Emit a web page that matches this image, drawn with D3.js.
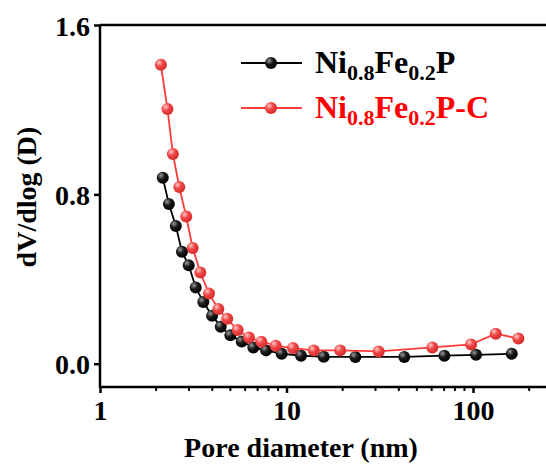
<!DOCTYPE html>
<html>
<head>
<meta charset="utf-8">
<script src="https://cdn.jsdelivr.net/npm/d3@7/dist/d3.min.js"></script>
<style>
  html, body { margin: 0; padding: 0; background: #fff; }
  svg { display: block; }
  text { font-family: "Liberation Serif", "Times New Roman", serif; font-weight: bold; }
</style>
</head>
<body>
<svg id="chart" width="546" height="465"></svg>
<script>
// Pore size distribution (BJH) for the two phosphide samples
const poreNiFeP = [2.17, 2.34, 2.55, 2.75, 2.99, 3.26, 3.58, 3.99, 4.44, 5.00, 5.75, 6.64, 7.77, 9.42, 11.96, 15.83, 23.4, 42.8, 70.2, 103.8, 161.3];
const dvNiFeP   = [0.879, 0.755, 0.651, 0.529, 0.465, 0.360, 0.291, 0.227, 0.175, 0.134, 0.105, 0.077, 0.063, 0.047, 0.038, 0.033, 0.032, 0.032, 0.038, 0.042, 0.047];

const poreNiFePC = [2.12, 2.30, 2.46, 2.66, 2.90, 3.14, 3.45, 3.84, 4.31, 4.81, 5.47, 6.29, 7.33, 8.75, 10.83, 14.0, 19.4, 31.2, 60.5, 97.6, 132.4, 175];
const dvNiFePC   = [1.412, 1.203, 0.991, 0.835, 0.695, 0.547, 0.431, 0.332, 0.258, 0.212, 0.159, 0.124, 0.104, 0.085, 0.074, 0.063, 0.063, 0.058, 0.077, 0.091, 0.142, 0.119];

const xTicks = [1, 10, 100];
const yTicks = [0.0, 0.8, 1.6];
const xTitle = "Pore diameter (nm)";
const yTitle = "dV/dlog (D)";

const series = [
  { name: ["Ni", "0.8", "Fe", "0.2", "P"], x: poreNiFeP, y: dvNiFeP, line: "#000000", text: "#000000", grad: "gBlack" },
  { name: ["Ni", "0.8", "Fe", "0.2", "P-C"], x: poreNiFePC, y: dvNiFePC, line: "#ff3b3b", text: "#ff0000", grad: "gRed" }
];

const svg = d3.select("#chart");
const plotL = 100, plotT = 25, plotB = 387, plotR = 562;

const x = d3.scaleLog().domain([1, 300]).range([plotL, plotR]);
const y = d3.scaleLinear().domain([-0.11, 1.6]).range([plotB, plotT]);

// Shaded sphere markers
const defs = svg.append("defs");
function sphere(id, hi, mid, dark) {
  const g = defs.append("radialGradient").attr("id", id)
    .attr("cx", "35%").attr("cy", "32%").attr("r", "70%");
  g.append("stop").attr("offset", "0%").attr("stop-color", hi);
  g.append("stop").attr("offset", "45%").attr("stop-color", mid);
  g.append("stop").attr("offset", "100%").attr("stop-color", dark);
}
sphere("gBlack", "#9a9a9a", "#1a1a1a", "#000000");
sphere("gRed", "#ffc8c8", "#f04848", "#d42a2a");

// Frame: top line runs past the right edge
svg.append("line").attr("x1", plotL).attr("x2", plotR).attr("y1", plotT).attr("y2", plotT)
  .attr("stroke", "#000").attr("stroke-width", 2.5);

// X axis with log minor ticks
const minor = [];
for (let d = 1; d < 1000; d *= 10) for (let k = 2; k <= 9; k++) if (d * k <= 300) minor.push(d * k);
const xAxis = svg.append("g").attr("transform", `translate(0,${plotB})`);
xAxis.call(d3.axisBottom(x).tickValues(xTicks).tickFormat(d3.format("d")).tickSize(6).tickPadding(7));
xAxis.selectAll(".minor").data(minor).enter().append("line")
  .attr("x1", d => x(d)).attr("x2", d => x(d)).attr("y1", 0).attr("y2", 4)
  .attr("stroke", "#000").attr("stroke-width", 2);
xAxis.select(".domain").attr("stroke-width", 2.5).attr("d", `M${plotL},0H${plotR}`);
xAxis.selectAll(".tick line").attr("stroke-width", 2.5);
xAxis.selectAll("text").attr("font-size", 28).attr("fill", "#000")
  .style("font-family", '"Liberation Serif", serif').style("font-weight", "bold");

// Y axis
const yAxis = svg.append("g").attr("transform", `translate(${plotL},0)`);
yAxis.call(d3.axisLeft(y).tickValues(yTicks).tickFormat(d3.format(".1f")).tickSize(6).tickPadding(4));
yAxis.select(".domain").attr("stroke-width", 2.5).attr("d", `M0,${plotT}V${plotB + 1}`);
yAxis.selectAll(".tick line").attr("stroke-width", 2.5);
yAxis.selectAll("text").attr("font-size", 28).attr("fill", "#000").attr("dy", "0.36em")
  .style("font-family", '"Liberation Serif", serif').style("font-weight", "bold");

// Axis titles
svg.append("text").attr("x", 301).attr("y", 457).attr("text-anchor", "middle")
  .attr("font-size", 28).text(xTitle);
svg.append("text").attr("transform", "translate(36,197) rotate(-90)").attr("text-anchor", "middle")
  .attr("font-size", 28).text(yTitle);

// Data lines and markers
const line = d3.line().x(d => x(d[0])).y(d => y(d[1]));
series.forEach(s => {
  const pts = s.x.map((v, i) => [v, s.y[i]]);
  svg.append("path").datum(pts).attr("d", line)
    .attr("fill", "none").attr("stroke", s.line).attr("stroke-width", 1.8);
  svg.append("g").selectAll("circle").data(pts).enter().append("circle")
    .attr("cx", d => x(d[0])).attr("cy", d => y(d[1])).attr("r", 6)
    .attr("fill", `url(#${s.grad})`);
});

// Legend
const legY = [63, 108];
series.forEach((s, i) => {
  const g = svg.append("g").attr("transform", `translate(0,${legY[i]})`);
  g.append("line").attr("x1", 241).attr("x2", 302).attr("y1", 0).attr("y2", 0)
    .attr("stroke", s.line).attr("stroke-width", 1.8);
  g.append("circle").attr("cx", 271).attr("cy", 0).attr("r", 6).attr("fill", `url(#${s.grad})`);
  const t = g.append("text").attr("x", 315).attr("y", 10).attr("font-size", 32).attr("fill", s.text);
  s.name.forEach((part, j) => {
    const sub = j % 2 === 1;
    t.append("tspan").attr("font-size", sub ? 22 : 32)
      .attr("dy", sub ? 7 : (j > 0 ? -7 : 0)).text(part);
  });
});
</script>
</body>
</html>
